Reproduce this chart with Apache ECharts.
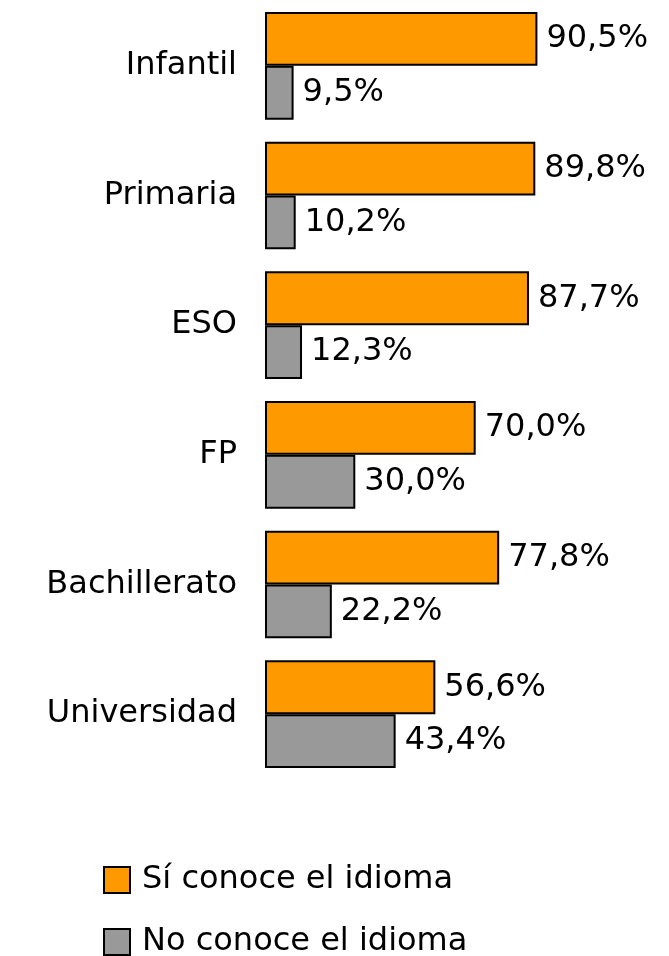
<!DOCTYPE html>
<html>
<head>
<meta charset="utf-8">
<script src="https://cdn.jsdelivr.net/npm/echarts@6/dist/echarts.min.js"></script>
<style>
  html, body { margin: 0; padding: 0; background: #fff; }
  #chart { width: 669px; height: 956px; }
</style>
</head>
<body>
<div id="chart"></div>
<script>
const categories = ['Infantil', 'Primaria', 'ESO', 'FP', 'Bachillerato', 'Universidad'];
const siConoce = [90.5, 89.8, 87.7, 70.0, 77.8, 56.6];
const noConoce = [9.5, 10.2, 12.3, 30.0, 22.2, 43.4];
const seriesNames = ['Sí conoce el idioma', 'No conoce el idioma'];

const FONT = '"DejaVu Sans", Verdana, sans-serif';

const fmt = (p) => p.value.toFixed(1).replace('.', ',') + '%';

// one legend per row, stacked
const legendRow = (name, top) => ({
  data: [name],
  left: 103,
  top: top,
  padding: 0,
  itemWidth: 26,
  itemHeight: 26,
  icon: 'rect',
  itemStyle: { borderColor: '#000', borderWidth: 2 },
  textStyle: { color: '#000', fontFamily: FONT, fontSize: 32, padding: [0, 0, 0, 7] }
});

const chart = echarts.init(document.getElementById('chart'));

chart.setOption({
  animation: false,
  grid: { left: 265, right: 103, top: 1, bottom: 177 },
  xAxis: {
    type: 'value',
    min: 0,
    max: 100,
    show: false
  },
  yAxis: {
    type: 'category',
    data: categories,
    inverse: true,
    axisLine: { show: false },
    axisTick: { show: false },
    splitLine: { show: false },
    axisLabel: {
      margin: 28,
      color: '#000',
      fontFamily: FONT,
      fontSize: 32
    }
  },
  legend: [legendRow(seriesNames[0], 864), legendRow(seriesNames[1], 926)],
  series: [
    {
      name: seriesNames[0],
      type: 'bar',
      data: siConoce,
      barGap: '0%',
      barCategoryGap: '17%',
      itemStyle: { color: '#FF9900', borderColor: '#000', borderWidth: 2 },
      label: {
        show: true,
        position: 'right',
        distance: 9,
        color: '#000',
        fontFamily: FONT,
        fontSize: 32,
        formatter: fmt
      }
    },
    {
      name: seriesNames[1],
      type: 'bar',
      data: noConoce,
      barGap: '0%',
      barCategoryGap: '17%',
      itemStyle: { color: '#999999', borderColor: '#000', borderWidth: 2 },
      label: {
        show: true,
        position: 'right',
        distance: 9,
        color: '#000',
        fontFamily: FONT,
        fontSize: 32,
        formatter: fmt
      }
    }
  ]
});
</script>
</body>
</html>
